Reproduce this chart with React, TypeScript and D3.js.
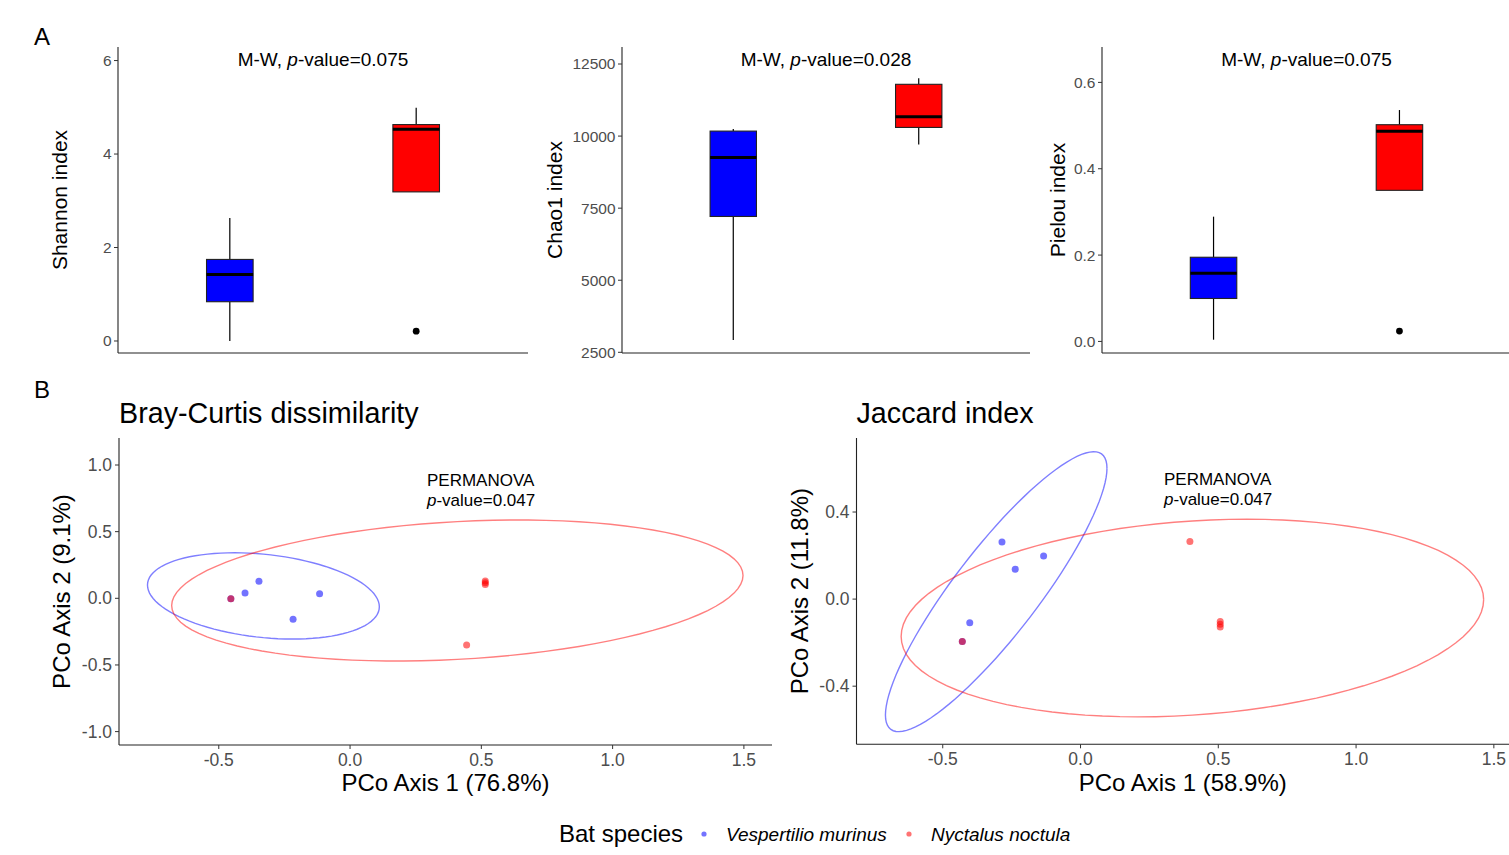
import React from "react";
import * as d3 from "d3";

const FONT = "'Liberation Sans', Arial, Helvetica, sans-serif";

// groups
const groups = ["Vespertilio murinus", "Nyctalus noctula"];
const fills = ["#0000FF", "#FF0000"];

// alpha diversity box stats (lower whisker, q1, median, q3, upper whisker, outliers)
const shannonStats = [
  { lo: 0.0, q1: 0.84, med: 1.425, q3: 1.745, hi: 2.63, out: [] as number[] },
  { lo: 3.19, q1: 3.19, med: 4.53, q3: 4.63, hi: 4.99, out: [0.21] },
];
const chao1Stats = [
  { lo: 2926, q1: 7212, med: 9261, q3: 10173, hi: 10243, out: [] as number[] },
  { lo: 9712, q1: 10300, med: 10670, q3: 11796, hi: 12004, out: [] as number[] },
];
const pielouStats = [
  { lo: 0.004, q1: 0.0995, med: 0.158, q3: 0.195, hi: 0.289, out: [] as number[] },
  { lo: 0.35, q1: 0.35, med: 0.487, q3: 0.502, hi: 0.536, out: [0.024] },
];
const shannonTicks = [0, 2, 4, 6];
const chao1Ticks = [2500, 5000, 7500, 10000, 12500];
const pielouTicks = [0, 0.2, 0.4, 0.6];

// PCoA points, [x, y]
const brayBlue = [[-0.454, -0.003], [-0.4, 0.04], [-0.347, 0.128], [-0.116, 0.035], [-0.217, -0.158]];
const brayRed = [[-0.454, -0.003], [0.515, 0.13], [0.515, 0.117], [0.515, 0.104], [0.444, -0.35]];
const jacBlue = [[-0.285, 0.262], [-0.134, 0.198], [-0.237, 0.137], [-0.402, -0.109], [-0.429, -0.195]];
const jacRed = [[-0.429, -0.195], [0.397, 0.264], [0.507, -0.103], [0.507, -0.116], [0.507, -0.128]];

// 95% ellipses: centre, half extents, correlation
const brayEllipses = [
  { cx: -0.33, cy: 0.018, sx: 0.4415, sy: 0.3237, rho: -0.2515 },
  { cx: 0.4086, cy: 0.0585, sx: 1.088, sy: 0.529, rho: 0.213 },
];
const jacEllipses = [
  { cx: -0.306, cy: 0.034, sx: 0.402, sy: 0.643, rho: 0.881 },
  { cx: 0.406, cy: -0.087, sx: 1.057, sy: 0.454, rho: 0.186 },
];
const brayXTicks = [-0.5, 0, 0.5, 1, 1.5];
const brayYTicks = [-1, -0.5, 0, 0.5, 1];
const jacXTicks = [-0.5, 0, 0.5, 1, 1.5];
const jacYTicks = [-0.4, 0, 0.4];

// plain hyphen for negatives, like R does
const fmt1 = (v: number) => (Math.abs(v) < 1e-9 ? 0 : v).toFixed(1);

function BoxPanel({ left, right, top, bottom, domain, ticks, fmt, stats, ylab, ylabX, pval }: any) {
  const x = d3.scalePoint<string>().domain(groups).range([left, right]).padding(0.6);
  const y = d3.scaleLinear().domain(domain).range([bottom, top]);
  const bw = x.step() * 0.25;
  return (
    <g>
      {stats.map((s: any, i: number) => {
        const cx = x(groups[i])!;
        return (
          <g key={i}>
            <line x1={cx} x2={cx} y1={y(s.hi)} y2={y(s.q3)} stroke="#000" strokeWidth={1.2} />
            <line x1={cx} x2={cx} y1={y(s.q1)} y2={y(s.lo)} stroke="#000" strokeWidth={1.2} />
            <rect x={cx - bw / 2} y={y(s.q3)} width={bw} height={y(s.q1) - y(s.q3)} fill={fills[i]} stroke="#222" strokeWidth={1.1} />
            <line x1={cx - bw / 2} x2={cx + bw / 2} y1={y(s.med)} y2={y(s.med)} stroke="#000" strokeWidth={3} />
            {s.out.map((o: number, j: number) => (
              <circle key={j} cx={cx} cy={y(o)} r={3.4} fill="#000" />
            ))}
          </g>
        );
      })}
      <line x1={left} x2={left} y1={top} y2={bottom} stroke="#222" strokeWidth={1.1} />
      <line x1={left} x2={right} y1={bottom} y2={bottom} stroke="#222" strokeWidth={1.1} />
      {ticks.map((t: number) => (
        <g key={t}>
          <line x1={left - 4} x2={left} y1={y(t)} y2={y(t)} stroke="#333" strokeWidth={1} />
          <text x={left - 6.5} y={y(t)} dy="0.35em" textAnchor="end" fontSize={15.5} fill="#4D4D4D" fontFamily={FONT}>
            {fmt(t)}
          </text>
        </g>
      ))}
      <text transform={`translate(${ylabX},${(top + bottom) / 2}) rotate(-90)`} textAnchor="middle" fontSize={21} fill="#000" fontFamily={FONT}>
        {ylab}
      </text>
      <text x={(left + right) / 2} y={66} textAnchor="middle" fontSize={19} fill="#000" fontFamily={FONT}>
        M-W, <tspan fontStyle="italic">p</tspan>-value={pval}
      </text>
    </g>
  );
}

function ellipsePts(e: any) {
  const pts: [number, number][] = [];
  const k = Math.sqrt(1 - e.rho * e.rho);
  for (let i = 0; i <= 100; i++) {
    const t = (i / 100) * Math.PI * 2;
    pts.push([e.cx + e.sx * Math.cos(t), e.cy + e.sy * (e.rho * Math.cos(t) + k * Math.sin(t))]);
  }
  return pts;
}

function PcoaPanel({ left, right, top, bottom, xDomain, yDomain, xTicks, yTicks, blue, red, ellipses, title, xlab, ylab, ann }: any) {
  const x = d3.scaleLinear().domain(xDomain).range([left, right]);
  const y = d3.scaleLinear().domain(yDomain).range([bottom, top]);
  const line = d3.line<[number, number]>().x((d) => x(d[0])).y((d) => y(d[1]));
  return (
    <g>
      <text x={left} y={423} fontSize={28.7} fill="#000" fontFamily={FONT}>{title}</text>
      {ellipses.map((e: any, i: number) => (
        <path key={i} d={line(ellipsePts(e))!} fill="none" stroke={fills[i]} strokeOpacity={0.5} strokeWidth={1.4} />
      ))}
      {blue.map((p: number[], i: number) => (
        <circle key={"b" + i} cx={x(p[0])} cy={y(p[1])} r={3.5} fill={fills[0]} fillOpacity={0.55} />
      ))}
      {red.map((p: number[], i: number) => (
        <circle key={"r" + i} cx={x(p[0])} cy={y(p[1])} r={3.5} fill={fills[1]} fillOpacity={0.55} />
      ))}
      <text x={x(ann[0])} y={y(ann[1])} fontSize={17} fill="#000" fontFamily={FONT}>PERMANOVA</text>
      <text x={x(ann[0])} y={y(ann[1]) + 20} fontSize={17} fill="#000" fontFamily={FONT}>
        <tspan fontStyle="italic">p</tspan>-value=0.047
      </text>
      <line x1={left} x2={left} y1={top} y2={bottom} stroke="#222" strokeWidth={1.1} />
      <line x1={left} x2={right} y1={bottom} y2={bottom} stroke="#222" strokeWidth={1.1} />
      {yTicks.map((t: number) => (
        <g key={"y" + t}>
          <line x1={left - 4} x2={left} y1={y(t)} y2={y(t)} stroke="#333" />
          <text x={left - 7} y={y(t)} dy="0.35em" textAnchor="end" fontSize={17.5} fill="#4D4D4D" fontFamily={FONT}>{fmt1(t)}</text>
        </g>
      ))}
      {xTicks.map((t: number) => (
        <g key={"x" + t}>
          <line x1={x(t)} x2={x(t)} y1={bottom} y2={bottom + 4} stroke="#333" />
          <text x={x(t)} y={bottom + 21} textAnchor="middle" fontSize={17.5} fill="#4D4D4D" fontFamily={FONT}>{fmt1(t)}</text>
        </g>
      ))}
      <text x={(left + right) / 2} y={791} textAnchor="middle" fontSize={24} fill="#000" fontFamily={FONT}>{xlab}</text>
      <text transform={`translate(${left - 49},${(top + bottom) / 2}) rotate(-90)`} textAnchor="middle" fontSize={24} fill="#000" fontFamily={FONT}>{ylab}</text>
    </g>
  );
}

export default function App() {
  const f0 = (v: number) => String(v);
  return (
    <svg width={1509} height={855} style={{ position: "absolute", left: 0, top: 0, background: "#fff" }}>
      <rect width={1509} height={855} fill="#fff" />
      <text x={34} y={45} fontSize={24} fontFamily={FONT}>A</text>
      <text x={34} y={398} fontSize={24} fontFamily={FONT}>B</text>
      <BoxPanel left={118} right={528} top={47} bottom={353} domain={[-0.257, 6.29]} ticks={shannonTicks} fmt={f0}
        stats={shannonStats} ylab="Shannon index" ylabX={67} pval="0.075" />
      <BoxPanel left={622} right={1030} top={47} bottom={353} domain={[2476, 13090]} ticks={chao1Ticks} fmt={f0}
        stats={chao1Stats} ylab="Chao1 index" ylabX={562} pval="0.028" />
      <BoxPanel left={1102} right={1511} top={47} bottom={353} domain={[-0.0268, 0.682]} ticks={pielouTicks} fmt={fmt1}
        stats={pielouStats} ylab="Pielou index" ylabX={1065} pval="0.075" />
      <PcoaPanel left={119} right={772} top={438} bottom={745} xDomain={[-0.88, 1.607]} yDomain={[-1.1005, 1.2026]}
        xTicks={brayXTicks} yTicks={brayYTicks} blue={brayBlue} red={brayRed} ellipses={brayEllipses}
        title="Bray-Curtis dissimilarity" xlab="PCo Axis 1 (76.8%)" ylab="PCo Axis 2 (9.1%)" ann={[0.293, 0.845]} />
      <PcoaPanel left={856.5} right={1509} top={438} bottom={744.3} xDomain={[-0.813, 1.555]} yDomain={[-0.667, 0.74]}
        xTicks={jacXTicks} yTicks={jacYTicks} blue={jacBlue} red={jacRed} ellipses={jacEllipses}
        title="Jaccard index" xlab="PCo Axis 1 (58.9%)" ylab="PCo Axis 2 (11.8%)" ann={[0.303, 0.524]} />
      <g fontFamily={FONT}>
        <text x={559} y={842} fontSize={24}>Bat species</text>
        <circle cx={704} cy={834} r={2.6} fill={fills[0]} fillOpacity={0.55} />
        <text x={726} y={841} fontSize={19} fontStyle="italic">{groups[0]}</text>
        <circle cx={909} cy={834} r={2.6} fill={fills[1]} fillOpacity={0.55} />
        <text x={931} y={841} fontSize={19} fontStyle="italic">{groups[1]}</text>
      </g>
    </svg>
  );
}
